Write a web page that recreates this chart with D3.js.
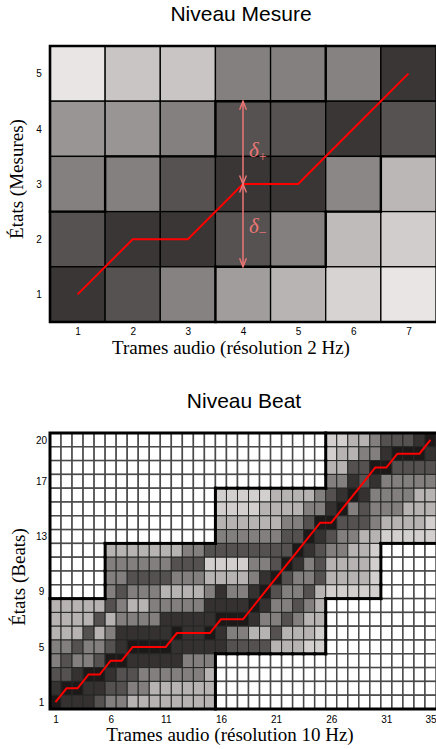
<!DOCTYPE html>
<html><head><meta charset="utf-8">
<script src="https://cdn.jsdelivr.net/npm/d3@7"></script>
<style>body{margin:0;background:#fff}svg{display:block}</style>
</head><body>
<script>
// ---------- DATA : measure level ----------
const measureFrames = [1, 2, 3, 4, 5, 6, 7];
const measureStates = [1, 2, 3, 4, 5];
// gray level of each cell; first row = state 5 (top), last row = state 1
const measureGray = [
  [232, 200, 200, 131, 131, 133, 57],
  [152, 152, 131, 85, 85, 57, 85],
  [131, 131, 85, 57, 57, 138, 186],
  [85, 57, 57, 85, 131, 190, 208],
  [57, 85, 133, 160, 183, 214, 232]
];
const measurePath = [1, 2, 2, 3, 3, 4, 5];
const measureBandLow = [1, 1, 1, 2, 2, 3, 4];
const measureBandHigh = [2, 3, 3, 4, 4, 5, 5];
const deltaFrame = 4;
const deltaCenter = 3;
const deltaPlusTo = 4.5;
const deltaMinusTo = 1.5;

// ---------- DATA : beat level ----------
const beatXTicks = [1, 6, 11, 16, 21, 26, 31, 35];
const beatYTicks = [1, 5, 9, 13, 17, 20];
const beatLevels = [28, 52, 84, 130, 182, 210];   // gray for codes 0..5
const o = null;                                     // outside the band
// first row = state 20 (top), last row = state 1 (bottom); 35 frames each
const beatGrid = [
  [o,o,o,o,o, o,o,o,o,o,o,o,o,o,o, o,o,o,o,o,o,o,o,o,o, 5,5,4,4,3, 2,2,2,1,0],
  [o,o,o,o,o, o,o,o,o,o,o,o,o,o,o, o,o,o,o,o,o,o,o,o,o, 5,4,4,3,3, 1,0,0,0,1],
  [o,o,o,o,o, o,o,o,o,o,o,o,o,o,o, o,o,o,o,o,o,o,o,o,o, 4,4,2,2,0, 0,2,2,2,2],
  [o,o,o,o,o, o,o,o,o,o,o,o,o,o,o, o,o,o,o,o,o,o,o,o,o, 3,3,1,2,1, 3,3,3,3,3],
  [o,o,o,o,o, o,o,o,o,o,o,o,o,o,o, 5,5,5,5,5,4,4,4,4,3, 2,1,0,1,3, 3,3,3,4,4],
  [o,o,o,o,o, o,o,o,o,o,o,o,o,o,o, 5,5,5,5,4,4,4,4,3,3, 1,0,3,2,3, 3,3,4,4,4],
  [o,o,o,o,o, o,o,o,o,o,o,o,o,o,o, 4,4,4,4,4,4,3,3,2,0, 0,2,2,2,3, 4,4,4,4,5],
  [o,o,o,o,o, o,o,o,o,o,o,o,o,o,o, 3,3,3,3,3,3,2,2,0,1, 2,3,3,4,4, 5,5,5,5,5],
  [o,o,o,o,o, 4,4,4,4,4,4,4,3,3,2, 2,2,2,2,2,2,2,0,1,2, 3,3,4,4,5, o,o,o,o,o],
  [o,o,o,o,o, 3,3,3,3,3,3,2,2,2,5, 5,5,5,3,3,2,0,1,3,2, 4,4,4,4,5, o,o,o,o,o],
  [o,o,o,o,o, 3,3,2,2,2,2,3,3,3,4, 4,4,4,3,1,0,2,3,3,2, 4,4,4,4,5, o,o,o,o,o],
  [o,o,o,o,o, 3,2,3,3,3,4,4,4,4,3, 1,3,3,1,0,2,3,3,2,4, 5,5,5,5,5, o,o,o,o,o],
  [4,4,4,4,4, 2,3,4,4,3,3,3,3,3,1, 1,1,1,0,1,3,3,2,3,4, o,o,o,o,o, o,o,o,o,o],
  [4,4,4,4,2, 4,3,3,3,3,1,1,1,1,1, 0,0,0,1,3,3,2,3,4,4, o,o,o,o,o, o,o,o,o,o],
  [4,4,4,2,4, 3,1,1,1,1,1,0,1,1,0, 1,3,3,4,4,2,4,4,4,5, o,o,o,o,o, o,o,o,o,o],
  [3,3,2,3,3, 2,1,0,0,0,0,1,1,1,1, 1,2,2,2,2,4,4,4,5,5, o,o,o,o,o, o,o,o,o,o],
  [3,2,3,3,2, 0,0,1,1,1,1,1,3,3,3, o,o,o,o,o,o,o,o,o,o, o,o,o,o,o, o,o,o,o,o],
  [2,2,1,0,0, 1,2,2,3,3,3,3,3,3,4, o,o,o,o,o,o,o,o,o,o, o,o,o,o,o, o,o,o,o,o],
  [1,0,0,1,1, 2,2,3,3,4,4,4,4,4,4, o,o,o,o,o,o,o,o,o,o, o,o,o,o,o, o,o,o,o,o],
  [0,1,1,1,2, 3,3,4,4,4,4,4,4,4,4, o,o,o,o,o,o,o,o,o,o, o,o,o,o,o, o,o,o,o,o]
];
const beatPath = [1,2,2,3,3,4,4,5,5,5,5,6,6,6,6,7,7,7,8,9,10,11,12,13,14,14,15,16,17,18,18,19,19,19,20];

// ---------- DRAWING ----------
const W = 436, H = 749;
const svg = d3.select("body").append("svg").attr("width", W).attr("height", H);
const sans = "'Liberation Sans', Arial, Helvetica, sans-serif";
const serif = "'Liberation Serif', 'Times New Roman', serif";
const grayCol = v => d3.rgb(v, Math.max(0, v - 3), Math.max(0, v - 4)).toString();

function outlineSegments(inBand, nCols, nRows) {
  const segs = [];
  for (let c = 1; c <= nCols; c++) for (let s = 1; s <= nRows; s++) {
    if (!inBand(c, s)) continue;
    if (s < nRows && !inBand(c, s + 1)) segs.push([[c - .5, s + .5], [c + .5, s + .5]]);
    if (s > 1 && !inBand(c, s - 1)) segs.push([[c - .5, s - .5], [c + .5, s - .5]]);
    if (c < nCols && !inBand(c + 1, s)) segs.push([[c + .5, s - .5], [c + .5, s + .5]]);
    if (c > 1 && !inBand(c - 1, s)) segs.push([[c - .5, s - .5], [c - .5, s + .5]]);
  }
  return segs;
}

// ===== Panel 1 : Niveau Mesure =====
{
  const x = d3.scaleLinear().domain([0.5, measureFrames.length + 0.5]).range([50, 436]);
  const y = d3.scaleLinear().domain([0.5, measureStates.length + 0.5]).range([322, 46]);
  const g = svg.append("g");
  const cells = [];
  measureGray.forEach((row, i) => row.forEach((v, j) => cells.push({c: j + 1, s: measureStates.length - i, v})));
  g.selectAll("rect.cell").data(cells).join("rect")
    .attr("x", d => x(d.c - .5)).attr("y", d => y(d.s + .5))
    .attr("width", d => x(d.c + .5) - x(d.c - .5)).attr("height", d => y(d.s - .5) - y(d.s + .5))
    .attr("fill", d => grayCol(d.v)).attr("stroke", "#000").attr("stroke-width", 1.3);

  const inBand = (c, s) => s >= measureBandLow[c - 1] && s <= measureBandHigh[c - 1];
  g.selectAll("line.band").data(outlineSegments(inBand, 7, 5)).join("line")
    .attr("x1", d => x(d[0][0])).attr("y1", d => y(d[0][1]))
    .attr("x2", d => x(d[1][0])).attr("y2", d => y(d[1][1]))
    .attr("stroke", "#000").attr("stroke-width", 2.4).attr("stroke-linecap", "square");

  g.append("path").attr("d", `M${x(7.5)},${y(5.5)}H${x(0.5)}V${y(0.5)}H${x(7.5)}`)
    .attr("fill", "none").attr("stroke", "#000").attr("stroke-width", 2.6);

  g.append("path").datum(measurePath)
    .attr("d", d3.line().x((d, i) => x(measureFrames[i])).y(d => y(d)))
    .attr("fill", "none").attr("stroke", "#f00").attr("stroke-width", 2);

  const ac = "#ee7676";
  const ax = x(deltaFrame);
  const arrow = (from, to) => {
    const y0 = y(from), y1 = y(to);
    g.append("line").attr("x1", ax).attr("x2", ax).attr("y1", y0).attr("y2", y1)
      .attr("stroke", ac).attr("stroke-width", 1.5);
    [[y0, Math.sign(y1 - y0)], [y1, Math.sign(y0 - y1)]].forEach(([ty, dir]) => {
      g.append("path").attr("d", `M${ax - 3.4},${ty + dir * 8.5}L${ax},${ty}L${ax + 3.4},${ty + dir * 8.5}`)
        .attr("fill", "none").attr("stroke", ac).attr("stroke-width", 1.4);
    });
  };
  arrow(deltaCenter, deltaPlusTo);
  arrow(deltaCenter, deltaMinusTo);
  const lab = (yy, sub) => {
    const t = g.append("text").attr("x", ax + 6).attr("y", yy).attr("fill", ac)
      .attr("font-family", serif).attr("font-size", 21);
    t.append("tspan").attr("font-style", "italic").text("δ");
    t.append("tspan").attr("font-size", 14).attr("dy", 4).text(sub);
  };
  lab(y((deltaCenter + deltaPlusTo) / 2) + 14, "+");
  lab(y((deltaCenter + deltaMinusTo) / 2) + 8, "−");

  const xa = g.append("g").attr("transform", `translate(0,${y(0.5)})`)
    .call(d3.axisBottom(x).tickValues(measureFrames).tickSize(0).tickPadding(6).tickFormat(d3.format("d")));
  const ya = g.append("g").attr("transform", `translate(39,0)`)
    .call(d3.axisLeft(y).tickValues(measureStates).tickSize(0).tickPadding(0).tickFormat(d3.format("d")));
  [xa, ya].forEach(a => { a.select(".domain").remove(); a.selectAll("text").attr("font-family", sans).attr("font-size", 10).attr("fill", "#000"); });
  ya.selectAll("text").attr("text-anchor", "middle");

  svg.append("text").attr("x", 241).attr("y", 21).attr("text-anchor", "middle")
    .attr("font-family", sans).attr("font-size", 21).text("Niveau Mesure");
  svg.append("text").attr("x", 231).attr("y", 354).attr("text-anchor", "middle")
    .attr("font-family", serif).attr("font-size", 19).text("Trames audio (résolution 2 Hz)");
  svg.append("text").attr("transform", "translate(23,179) rotate(-90)").attr("text-anchor", "middle")
    .attr("font-family", serif).attr("font-size", 19).text("États (Mesures)");
}

// ===== Panel 2 : Niveau Beat =====
{
  const nC = beatPath.length, nS = beatGrid.length;
  const x = d3.scaleLinear().domain([0.5, nC + 0.5]).range([50, 436]);
  const y = d3.scaleLinear().domain([0.5, nS + 0.5]).range([709, 433]);
  const g = svg.append("g");
  const cells = [];
  beatGrid.forEach((row, i) => row.forEach((v, j) => cells.push({c: j + 1, s: nS - i, v})));
  g.selectAll("rect.cell").data(cells).join("rect")
    .attr("x", d => x(d.c - .5)).attr("y", d => y(d.s + .5))
    .attr("width", d => x(d.c + .5) - x(d.c - .5)).attr("height", d => y(d.s - .5) - y(d.s + .5))
    .attr("fill", d => d.v == null ? "#fff" : grayCol(beatLevels[d.v]))
    .attr("stroke", d => d.v == null ? "#4a4a4a" : "#262626")
    .attr("stroke-width", d => d.v == null ? 1.5 : 1);

  const inBand = (c, s) => beatGrid[nS - s][c - 1] != null;
  g.selectAll("line.band").data(outlineSegments(inBand, nC, nS)).join("line")
    .attr("x1", d => x(d[0][0])).attr("y1", d => y(d[0][1]))
    .attr("x2", d => x(d[1][0])).attr("y2", d => y(d[1][1]))
    .attr("stroke", "#000").attr("stroke-width", 3).attr("stroke-linecap", "square");

  g.append("path").attr("d", `M${x(nC + .5)},${y(nS + .5)}H${x(0.5)}V${y(0.5)}H${x(nC + .5)}`)
    .attr("fill", "none").attr("stroke", "#000").attr("stroke-width", 3);

  g.append("path").datum(beatPath)
    .attr("d", d3.line().x((d, i) => x(i + 1)).y(d => y(d)))
    .attr("fill", "none").attr("stroke", "#f00").attr("stroke-width", 2);

  const xa = g.append("g").attr("transform", `translate(0,${y(0.5)})`)
    .call(d3.axisBottom(x).tickValues(beatXTicks).tickSize(0).tickPadding(7).tickFormat(d3.format("d")));
  const ya = g.append("g").attr("transform", `translate(41.5,0)`)
    .call(d3.axisLeft(y).tickValues(beatYTicks).tickSize(0).tickPadding(0).tickFormat(d3.format("d")));
  [xa, ya].forEach(a => { a.select(".domain").remove(); a.selectAll("text").attr("font-family", sans).attr("font-size", 10).attr("fill", "#000"); });
  ya.selectAll("text").attr("text-anchor", "middle");

  svg.append("text").attr("x", 244).attr("y", 408).attr("text-anchor", "middle")
    .attr("font-family", sans).attr("font-size", 21).text("Niveau Beat");
  svg.append("text").attr("x", 230).attr("y", 741).attr("text-anchor", "middle")
    .attr("font-family", serif).attr("font-size", 19).text("Trames audio (résolution 10 Hz)");
  svg.append("text").attr("transform", "translate(25,577) rotate(-90)").attr("text-anchor", "middle")
    .attr("font-family", serif).attr("font-size", 19).text("États (Beats)");
}
</script>
</body></html>
